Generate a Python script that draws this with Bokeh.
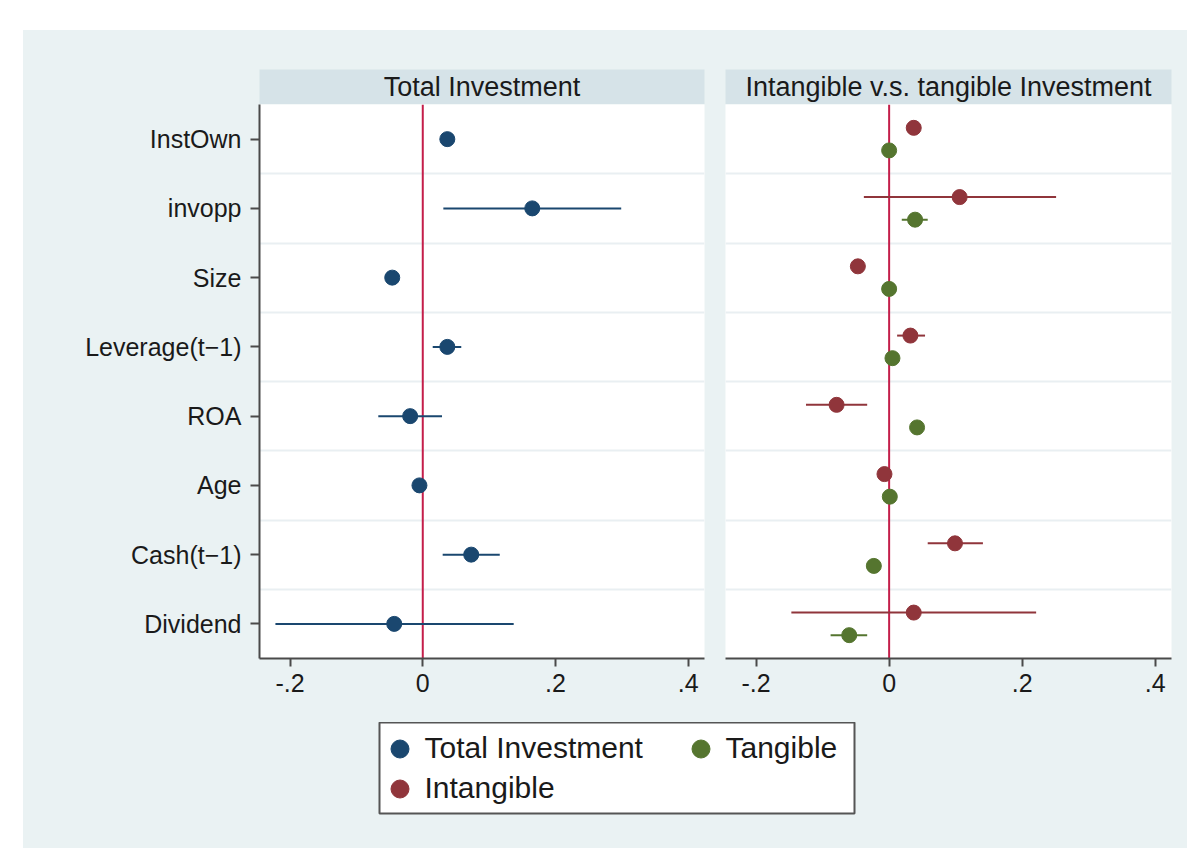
from bokeh.plotting import figure
from bokeh.models import (Range1d, FactorRange, FixedTicker, Span, Label, Legend,
                          LegendItem, ColumnDataSource, Spacer)
from bokeh.layouts import column, row
from bokeh.transform import dodge
from bokeh.embed import file_html
from bokeh.resources import INLINE

# ---------------- data ----------------
categories = ["InstOwn", "invopp", "Size", "Leverage(t\u22121)", "ROA", "Age",
              "Cash(t\u22121)", "Dividend"]
panel_titles = ["Total Investment", "Intangible v.s. tangible Investment"]
series_names = ["Total Investment", "Tangible", "Intangible"]

total_coef = [0.037, 0.165, -0.046, 0.037, -0.019, -0.005, 0.073, -0.043]
total_lo = [0.032, 0.031, -0.051, 0.015, -0.067, -0.010, 0.030, -0.222]
total_hi = [0.042, 0.299, -0.041, 0.058, 0.029, 0.000, 0.116, 0.137]

intan_coef = [0.037, 0.106, -0.047, 0.032, -0.079, -0.007, 0.099, 0.037]
intan_lo = [0.032, -0.038, -0.052, 0.012, -0.125, -0.012, 0.058, -0.147]
intan_hi = [0.042, 0.251, -0.042, 0.054, -0.033, -0.002, 0.141, 0.221]

tang_coef = [0.000, 0.039, 0.000, 0.005, 0.042, 0.001, -0.023, -0.060]
tang_lo = [-0.004, 0.019, -0.004, 0.001, 0.038, -0.003, -0.027, -0.088]
tang_hi = [0.004, 0.058, 0.004, 0.009, 0.046, 0.005, -0.019, -0.033]

x_ticks = [-0.2, 0.0, 0.2, 0.4]
x_tick_labels = ["-.2", "0", ".2", ".4"]

# ---------------- style ----------------
BG = "#eaf2f3"
HEAD = "#d6e3e8"
NAVY = "#1a476f"
MAROON = "#90353b"
GREEN = "#55752f"
ZERO = "#c41e4a"
AXIS = "#4a4a4a"
TXT = "#1a1a1a"
FONT = "Liberation Sans"
XR = (-0.246, 0.4245)


def header(title, w, left, right):
    h = figure(width=w, height=74, output_backend="svg", toolbar_location=None,
               x_axis_location=None, y_axis_location=None,
               x_range=Range1d(0, 1), y_range=Range1d(0, 1),
               min_border_left=left, min_border_right=right,
               min_border_top=39, min_border_bottom=0)
    h.title.visible = False
    h.grid.visible = False
    h.background_fill_color = HEAD
    h.border_fill_color = BG
    h.outline_line_color = None
    h.add_layout(Label(x=0.5, y=0.5, text=title, text_align="center",
                       text_baseline="middle", text_font_size="27px",
                       text_font=FONT, text_color=TXT))
    return h


def panel(w, left, right, show_y):
    p = figure(width=w, height=618, output_backend="svg", toolbar_location=None,
               x_range=Range1d(*XR),
               y_range=FactorRange(factors=categories[::-1], range_padding=0,
                                   factor_padding=0),
               min_border_left=left, min_border_right=right,
               min_border_top=0, min_border_bottom=64)
    p.title.visible = False
    p.background_fill_color = "white"
    p.border_fill_color = BG
    p.outline_line_color = None
    p.xgrid.visible = False
    p.ygrid.ticker = FixedTicker(ticks=list(range(1, len(categories))))
    p.ygrid.grid_line_color = "#e9eff2"
    p.ygrid.grid_line_width = 2
    p.xaxis.ticker = FixedTicker(ticks=x_ticks)
    p.xaxis.major_label_overrides = {t: l for t, l in zip(x_ticks, x_tick_labels)}
    for ax in p.axis:
        ax.axis_line_color = AXIS
        ax.axis_line_width = 2
        ax.major_tick_line_color = AXIS
        ax.major_tick_line_width = 2
        ax.major_tick_in = 0
        ax.minor_tick_line_color = None
        ax.major_label_text_font = FONT
        ax.major_label_text_font_size = "25px"
        ax.major_label_text_color = TXT
    p.xaxis.major_tick_out = 8
    p.xaxis.major_label_standoff = 7
    p.yaxis.major_tick_out = 9
    p.yaxis.major_label_standoff = 9
    if not show_y:
        p.yaxis.visible = False
    p.add_layout(Span(location=0, dimension="height", line_color=ZERO,
                      line_width=2, level="underlay"))
    return p


def draw(p, coef, lo, hi, color, off):
    src = ColumnDataSource(dict(cat=categories, coef=coef, lo=lo, hi=hi))
    yy = dodge("cat", off, range=p.y_range)
    p.segment(x0="lo", x1="hi", y0=yy, y1=yy, source=src, line_color=color,
              line_width=2)
    p.scatter(x="coef", y=yy, source=src, size=15, fill_color=color,
              line_color=color)


h1 = header(panel_titles[0], 692, 235, 11)
h2 = header(panel_titles[1], 472, 10, 16)
f1 = panel(692, 236, 11, True)
f2 = panel(472, 10, 16, False)

draw(f1, total_coef, total_lo, total_hi, NAVY, 0.0)
draw(f2, intan_coef, intan_lo, intan_hi, MAROON, 0.163)
draw(f2, tang_coef, tang_lo, tang_hi, GREEN, -0.163)

# ---------------- legend ----------------
lf = figure(width=1164, height=126, output_backend="svg", toolbar_location=None,
            x_axis_location=None, y_axis_location=None,
            x_range=Range1d(0, 1), y_range=Range1d(0, 1),
            min_border_left=356, min_border_right=333,
            min_border_top=0, min_border_bottom=35)
lf.title.visible = False
lf.grid.visible = False
lf.background_fill_color = "white"
lf.border_fill_color = BG
lf.outline_line_color = "#555555"
lf.outline_line_width = 2

leg_colors = [NAVY, GREEN, MAROON]
leg_coefs = [total_coef, tang_coef, intan_coef]
leg_pos = [(-2.5, 42.5), (298.5, 42.5), (-2.5, 2.5)]
for name, col, cf, pos in zip(series_names, leg_colors, leg_coefs, leg_pos):
    # hidden proxy renderer (series values); only its legend swatch is shown
    r = lf.scatter(x=cf, y=cf, size=15, fill_color=col, line_color=col,
                   visible=False)
    lg = Legend(items=[LegendItem(label=name, renderers=[r])], location=pos,
                padding=0, margin=0, spacing=0, glyph_width=45, glyph_height=45,
                label_standoff=3, label_text_font=FONT,
                label_text_font_size="30px", label_text_color=TXT,
                background_fill_alpha=0, border_line_color=None)
    lf.add_layout(lg)

inner = column(row(column(h1, f1, spacing=0), column(h2, f2, spacing=0), spacing=0),
               lf, spacing=0, styles={"background-color": BG})
page = column(Spacer(height=30, width=10),
              row(Spacer(width=23, height=10), inner, spacing=0), spacing=0)

open("out.html", "w").write(file_html(page, INLINE))
